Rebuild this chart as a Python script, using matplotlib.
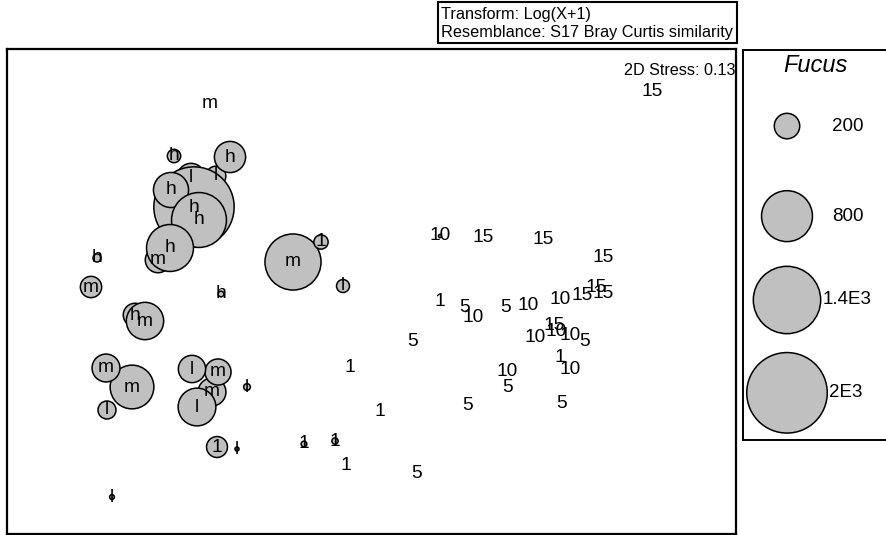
import matplotlib
matplotlib.use("Agg")
import matplotlib.pyplot as plt
from matplotlib.patches import Rectangle

plt.rcParams["font.family"] = ["Liberation Sans", "DejaVu Sans"]

# nMDS ordination: sample labels, coordinates and Fucus abundance
# (entries are listed in drawing order, so later bubbles sit on top)
labels = ["m", "l", "l", "h", "h", "h", "h", "m", "h", "h",
          "m", "h", "h", "h", "m", "m", "m", "l", "m", "m",
          "l", "l", "l", "l", "1", "1", "1", "1", "1", "1",
          "5", "l", "m", "1", "l",
          "15", "10", "15", "15", "15", "1", "5", "10", "5", "10",
          "10", "15", "15", "15", "5", "10", "15", "10", "10", "5",
          "1", "10", "10", "5", "5", "5"]
mds1 = [-1.60, -1.79, -1.54, -1.76, -1.96, -1.40, -1.99, -2.12, -1.71, -2.00,
        -2.79, -2.73, -1.49, -2.35, -2.25, -2.38, -2.64, -2.63, -1.58, -1.52,
        -1.78, -1.73, -1.23, -1.33, -1.53, -0.66, -0.35, -0.20, 0.10, -0.24,
        0.47, -2.58, -0.77, -0.49, -0.27,
        2.82, 0.70, 1.13, 1.73, 2.33, 0.70, 0.95, 1.03, 1.36, 1.58,
        1.90, 2.12, 2.26, 2.33, 0.43, 1.65, 1.84, 1.86, 2.00, 2.15,
        1.90, 2.00, 1.37, 1.38, 0.98, 1.92]
mds2 = [1.87, 1.13, 1.14, 0.83, 1.34, 1.33, 1.00, 0.30, 0.70, 0.42,
        0.03, 0.32, -0.04, -0.25, -0.31, -0.97, -0.78, -1.20, -1.02, -0.82,
        -0.79, -1.17, -0.97, -1.59, -1.57, -1.54, -1.51, -0.77, -1.22, -1.76,
        -1.83, -2.07, 0.28, 0.48, 0.04,
        1.99, 0.54, 0.52, 0.50, 0.32, -0.12, -0.18, -0.28, -0.18, -0.15,
        -0.10, -0.06, 0.02, -0.03, -0.52, -0.48, -0.36, -0.42, -0.45, -0.52,
        -0.67, -0.80, -0.82, -0.98, -1.15, -1.13]
fucus = [0, 230, 120, 1990, 55, 300, 380, 200, 930, 680,
         140, 20, 10, 170, 430, 590, 240, 100, 240, 210,
         230, 440, 14, 5, 135, 10, 12, 0, 0, 0,
         0, 7, 970, 63, 52,
         0, 3, 0, 0, 0, 0, 0, 0, 0, 0,
         0, 0, 0, 0, 0, 0, 0, 0, 0, 0,
         0, 0, 0, 0, 0, 0]

key_values = [200, 800, 1400, 2000]
key_labels = ["200", "800", "1.4E3", "2E3"]

BUBBLE_K = 1.68          # marker area (pt^2) per unit abundance
FILL = "#c0c0c0"
W, H = 887, 535

fig = plt.figure(figsize=(W / 100, H / 100), dpi=100)

# main ordination panel
ax = fig.add_axes([7 / W, 1 / H, 729.5 / W, 485 / H])
ax.set_xlim(-3.63, 3.665)
ax.set_ylim(-2.44, 2.41)
ax.set_xticks([])
ax.set_yticks([])
for sp in ax.spines.values():
    sp.set_linewidth(1.6)

bx = [x for x, v in zip(mds1, fucus) if v > 0]
by = [y for y, v in zip(mds2, fucus) if v > 0]
bs = [v * BUBBLE_K for v in fucus if v > 0]
ax.scatter(bx, by, s=bs, c=FILL, edgecolors="black", linewidths=1.1, zorder=2)

for lab, x, y in zip(labels, mds1, mds2):
    ax.text(x, y, lab, ha="center", va="center", fontsize=13.8, zorder=3)

ax.text(0.9985, 0.955, "2D Stress: 0.13", transform=ax.transAxes,
        ha="right", va="center", fontsize=11.6)

# transform / resemblance caption box
fig.add_artist(Rectangle((438 / W, (H - 43) / H), 299 / W, 41 / H,
                         transform=fig.transFigure, fill=False, lw=1.5,
                         edgecolor="black"))
fig.text(441 / W, (H - 14) / H, "Transform: Log(X+1)", ha="left",
         va="center", fontsize=11.7)
fig.text(441 / W, (H - 33) / H, "Resemblance: S17 Bray Curtis similarity",
         ha="left", va="center", fontsize=11.7)

# bubble key
lk = fig.add_axes([743 / W, (H - 440) / H, 160 / W, 390 / H])
lk.set_xlim(0, 1)
lk.set_ylim(0, 1)
lk.set_xticks([])
lk.set_yticks([])
for sp in lk.spines.values():
    sp.set_linewidth(1.4)
key_y = [0.805, 0.574, 0.359, 0.121]
key_tx = [0.555, 0.555, 0.495, 0.54]
lk.scatter([0.275] * len(key_values), key_y,
           s=[v * BUBBLE_K for v in key_values], c=FILL,
           edgecolors="black", linewidths=1.1, clip_on=False)
for lab, y, tx in zip(key_labels, key_y, key_tx):
    lk.text(tx, y, lab, ha="left", va="center", fontsize=13.5)
lk.text(0.45, 0.96, "Fucus", ha="center", va="center", fontsize=17,
        style="italic")

fig.savefig("out.png", dpi=100)
